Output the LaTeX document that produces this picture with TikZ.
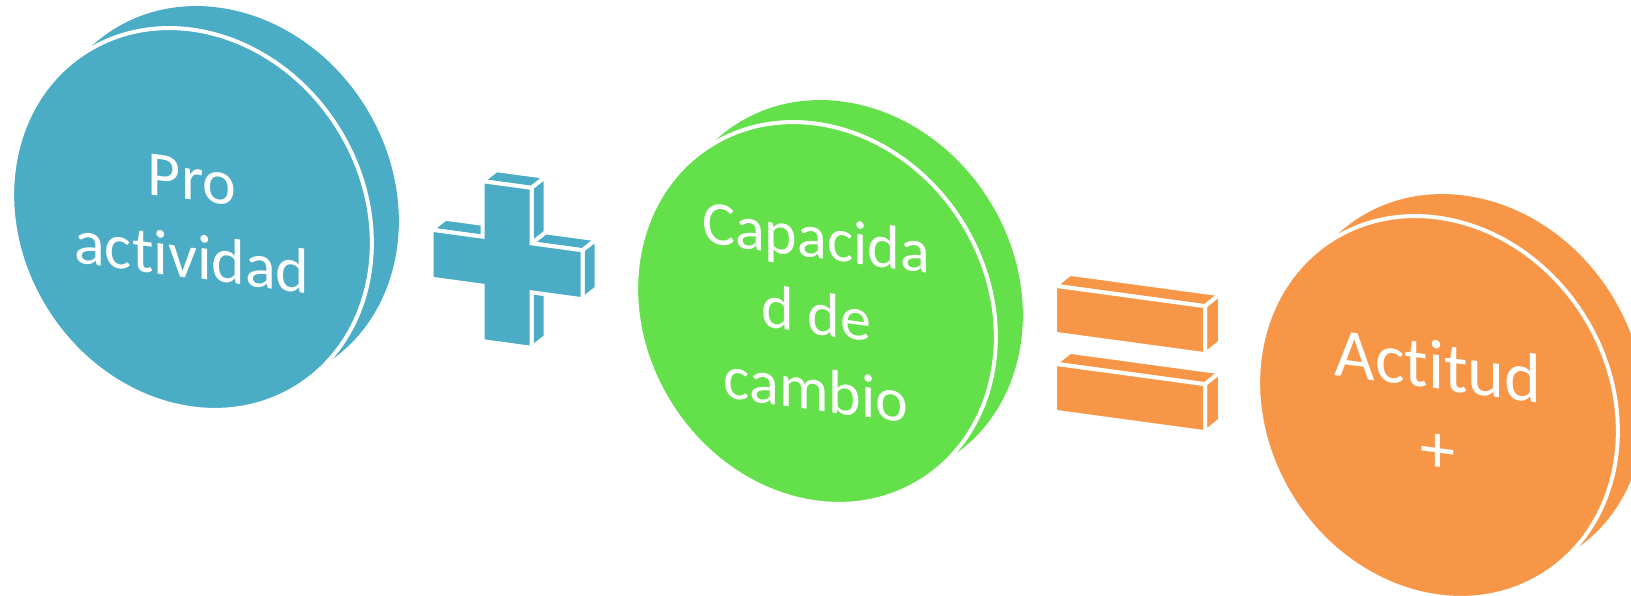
\documentclass[tikz,border=0pt]{standalone}
\usepackage{fontspec}
\setmainfont{Carlito}[Ligatures=NoCommon]
\usepackage{xcolor}
\usetikzlibrary{positioning,shapes.geometric}
\definecolor{problue}{HTML}{4BACC6}
\definecolor{cambiogreen}{HTML}{63E04A}
\definecolor{actorange}{HTML}{F79646}
\tikzset{
    disc/.style={ellipse,minimum width=344pt,minimum height=396pt,inner sep=0pt,rotate=32.4},
    discfront/.style={disc,draw=white,line width=4pt},
    discback/.style={disc},
    disctext/.style={text=white,align=center,yslant=-0.136,inner sep=0pt},
    face/.style={draw=white,line width=4pt,line join=miter}
}

\begin{document}
\begin{tikzpicture}[x=1pt,y=1pt]
  \useasboundingbox (0,0) rectangle (1631,596);
  \coordinate (C1) at (192,377);
  \coordinate (C2) at (507,331.5);
  \coordinate (C3) at (816,283);
  \coordinate (C4) at (1130,237);
  \coordinate (C5) at (1438,189);

  % Pro actividad
  \node[discback,fill=problue] (N1b) at ([shift={(27,22)}]C1) {};
  \node[discfront,fill=problue] (N1) at (C1) {};
  \node[disctext,font=\fontsize{64}{78}\selectfont] (T1) at (N1) {Pro\\actividad};

  % plus sign
  \begin{scope}[shift={(C2)},cm={1,-0.136,0,1,(0,0)}]
    \filldraw[face,fill=problue] (-24.5,80) -- (24.5,80) -- ++(14,12.9) -- ++(-49,0) -- cycle;
    \filldraw[face,fill=problue] (-75.5,24.5) -- (-24.5,24.5) -- ++(14,12.9) -- ++(-51,0) -- cycle;
    \filldraw[face,fill=problue] (24.5,24.5) -- (75.5,24.5) -- ++(14,12.9) -- ++(-51,0) -- cycle;
    \filldraw[face,fill=problue] (24.5,80) -- (24.5,24.5) -- ++(14,12.9) -- ++(0,55.5) -- cycle;
    \filldraw[face,fill=problue] (75.5,24.5) -- (75.5,-24.5) -- ++(14,12.9) -- ++(0,49) -- cycle;
    \filldraw[face,fill=problue] (24.5,-24.5) -- (24.5,-80) -- ++(14,12.9) -- ++(0,55.5) -- cycle;
    \filldraw[face,fill=problue] (-24.5,80) -- (24.5,80) -- (24.5,24.5) -- (75.5,24.5) -- (75.5,-24.5)
      -- (24.5,-24.5) -- (24.5,-80) -- (-24.5,-80) -- (-24.5,-24.5) -- (-75.5,-24.5) -- (-75.5,24.5)
      -- (-24.5,24.5) -- cycle;
  \end{scope}

  % Capacidad de cambio
  \node[discback,fill=cambiogreen] (N3b) at ([shift={(27,22)}]C3) {};
  \node[discfront,fill=cambiogreen] (N3) at (C3) {};
  \node[disctext,font=\fontsize{62}{76}\selectfont] (T3) at (N3) {Capacida\\d de\\cambio};

  % equals sign
  \begin{scope}[shift={(C4)},cm={1,-0.136,0,1,(0,0)}]
    \foreach \v in {0,-78}{
      \filldraw[face,fill=actorange] (-75,63+\v) -- (75,63+\v) -- ++(15,14) -- ++(-150,0) -- cycle;
      \filldraw[face,fill=actorange] (75,63+\v) -- (75,15+\v) -- ++(15,14) -- ++(0,48) -- cycle;
      \filldraw[face,fill=actorange] (-75,15+\v) rectangle (75,63+\v);
    }
  \end{scope}

  % Actitud +
  \node[discback,fill=actorange] (N5b) at ([shift={(27,22)}]C5) {};
  \node[discfront,fill=actorange] (N5) at (C5) {};
  \node[disctext,font=\fontsize{70}{84}\selectfont] (T5) at (N5) {Actitud\\+};
\end{tikzpicture}
\end{document}
